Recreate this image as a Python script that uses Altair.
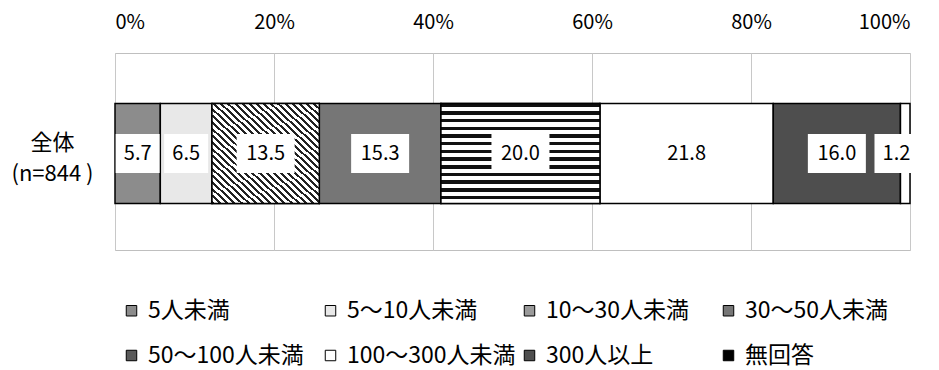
import altair as alt
import pandas as pd

# ---- data ----
categories = ["5人未満", "5～10人未満", "10～30人未満", "30～50人未満",
              "50～100人未満", "100～300人未満", "300人以上", "無回答"]
values = [5.7, 6.5, 13.5, 15.3, 20.0, 21.8, 16.0, 1.2]
group_label = "全体|(n=844 )"
tick_values = [0, 20, 40, 60, 80, 100]

# ---- style ----
FONT = "Noto Sans CJK JP"
fills = ["#8c8c8c", "#e8e8e8", "#9a9a9a", "#767676",
         "#5a5a5a", "#ffffff", "#4e4e4e", "#000000"]


def stripes(n, frac, dark, light, x1, y1, x2, y2):
    stops = []
    for i in range(n):
        a = i / n
        b = (i + frac) / n
        c = (i + 1) / n
        stops += [{"offset": a, "color": dark}, {"offset": b, "color": dark},
                  {"offset": b, "color": light}, {"offset": c, "color": light}]
    return {"gradient": "linear", "x1": x1, "y1": y1, "x2": x2, "y2": y2,
            "stops": stops}


h_stripes = stripes(13, 0.45, "#111111", "#ffffff", 0, 0, 0, 1)
d_stripes = stripes(30, 0.42, "#222222", "#ffffff", 0, 1, 1, 0)

df = pd.DataFrame({"category": categories, "value": values})
df["end"] = df["value"].cumsum()
df["start"] = df["end"] - df["value"]
df["mid"] = (df["start"] + df["end"]) / 2
df["lx"] = df["mid"].clip(upper=98.3)
df["label"] = df["value"].map(lambda v: f"{v:.1f}")
df["group"] = group_label
df["wide"] = df["label"].str.len() > 3

x_axis = alt.Axis(orient="top", values=tick_values, labelExpr="datum.value + '%'",
                  grid=True, gridColor="#c8c8c8", domain=False, ticks=False,
                  tickSize=0, labelPadding=21, labelFontSize=20, labelFont=FONT,
                  labelColor="black")
x_scale = alt.Scale(domain=[0, 100], nice=False)
y_enc = alt.Y("group:N", title=None,
              axis=alt.Axis(labelExpr="split(datum.label, '|')", labelAlign="center",
                            labelBaseline="middle", labelPadding=63, labelFontSize=22,
                            labelFont=FONT, labelLineHeight=31, labelColor="black",
                            domain=False, ticks=False, tickSize=0, grid=False,
                            labelOffset=-9))

YOFF = 2


def xf(field):
    return alt.X(f"{field}:Q", scale=x_scale, axis=x_axis, title=None)


base = alt.Chart(df)

bars = base.mark_bar(size=100, stroke="black", strokeWidth=1.5, yOffset=YOFF).encode(
    x=xf("start"), x2="end", y=y_enc,
    fill=alt.condition(
        alt.datum.category == "無回答",
        alt.value("white"),
        alt.Fill("category:N", scale=alt.Scale(domain=categories, range=fills),
                 legend=alt.Legend(orient="none", legendX=5, legendY=246,
                                   direction="horizontal", columns=4, gridAlign="all",
                                   columnPadding=2, rowPadding=21, title=None,
                                   labelFontSize=23, labelFont=FONT, labelColor="black",
                                   symbolType="square", symbolSize=110,
                                   symbolStrokeColor="black", symbolStrokeWidth=1,
                                   labelOffset=5, labelLimit=400, padding=0)),
    ),
)

stripe_h = base.transform_filter(alt.datum.category == "50～100人未満").mark_bar(
    size=100, fill=h_stripes, stroke="black", strokeWidth=1.5, yOffset=YOFF
).encode(x=xf("start"), x2="end", y=y_enc)

stripe_d = base.transform_filter(alt.datum.category == "10～30人未満").mark_bar(
    size=100, fill=d_stripes, stroke="black", strokeWidth=1.5, yOffset=YOFF
).encode(x=xf("start"), x2="end", y=y_enc)

box_wide = base.transform_filter(alt.datum.wide).mark_bar(
    size=39, color="white", xOffset=-29, x2Offset=29, yOffset=YOFF
).encode(x=xf("lx"), x2="lx", y=y_enc)

box_narrow = base.transform_filter(~alt.datum.wide).mark_bar(
    size=39, color="white", xOffset=-22, x2Offset=22, yOffset=YOFF
).encode(x=xf("lx"), x2="lx", y=y_enc)

labels = base.mark_text(fontSize=20, font=FONT, color="black", baseline="middle",
                        dy=YOFF).encode(
    x=xf("lx"), y=y_enc, text="label:N"
)

chart = alt.layer(bars, stripe_h, stripe_d, box_wide, box_narrow, labels).properties(
    width=795, height=197,
    padding={"left": 115, "top": 53, "right": 29, "bottom": 120},
    autosize=alt.AutoSizeParams(type="none"),
).configure_view(stroke="#bfbfbf", strokeWidth=1)

chart.save("out.html", embed_options={"renderer": "svg", "actions": False})
